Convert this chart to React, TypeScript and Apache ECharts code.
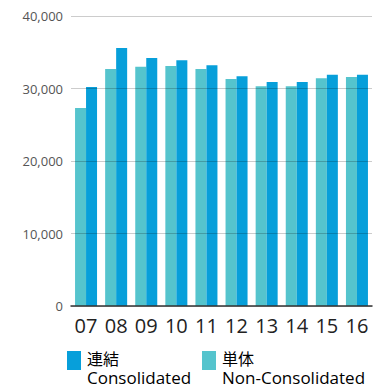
import React, { useEffect, useRef } from "react";
import * as echarts from "echarts";

const categories = ["07", "08", "09", "10", "11", "12", "13", "14", "15", "16"];
const nonConsolidated = [27300, 32700, 33000, 33100, 32700, 31300, 30300, 30300, 31400, 31600];
const consolidated = [30200, 35600, 34200, 33900, 33200, 31700, 30900, 30900, 31900, 31900];
const yTicks = [0, 10000, 20000, 30000, 40000];

const BLUE = "#079fda";
const TEAL = "#55c4cd";
const FONT = "'Open Sans', 'Noto Sans CJK JP', sans-serif";

const legendRich = {
  cjk: { fontFamily: FONT, fontSize: 16, lineHeight: 18, color: "#333" },
  lat: { fontFamily: FONT, fontSize: 17, lineHeight: 18, color: "#333" },
};

export default function App() {
  const ref = useRef<HTMLDivElement>(null);
  useEffect(() => {
    if (!ref.current) return;
    const chart = echarts.init(ref.current, null, { renderer: "svg" });
    chart.setOption({
      animation: false,
      textStyle: { fontFamily: FONT },
      grid: { left: 71, right: 5, top: 16, bottom: 82, containLabel: false },
      xAxis: {
        type: "category",
        data: categories,
        z: 5,
        axisLine: { lineStyle: { color: "#333", width: 1.5 } },
        axisTick: { alignWithLabel: true, length: 5, lineStyle: { color: "#333", width: 2 } },
        axisLabel: { color: "#222", fontSize: 20, margin: 9, fontFamily: FONT },
      },
      yAxis: {
        type: "value",
        min: yTicks[0],
        max: yTicks[yTicks.length - 1],
        interval: 10000,
        z: 4,
        axisLine: { show: false },
        axisTick: { show: false },
        axisLabel: {
          color: "#555",
          fontSize: 13,
          margin: 8,
          fontFamily: FONT,
          formatter: (v: number) => v.toLocaleString("en-US"),
        },
        splitLine: { lineStyle: { color: "rgba(0,0,0,0.2)", width: 1 } },
      },
      series: [
        {
          name: "単体 Non-Consolidated",
          type: "bar",
          data: nonConsolidated,
          barWidth: 11,
          barGap: "0%",
          itemStyle: { color: TEAL },
        },
        {
          name: "連結 Consolidated",
          type: "bar",
          data: consolidated,
          barWidth: 11,
          barGap: "0%",
          itemStyle: { color: BLUE },
        },
      ],
      graphic: [
        { type: "rect", left: 67, top: 351, shape: { width: 14, height: 19 }, style: { fill: BLUE } },
        {
          type: "text",
          left: 87,
          top: 351,
          style: { text: "{cjk|連結}\n{lat|Consolidated}", rich: legendRich },
        },
        { type: "rect", left: 202, top: 351, shape: { width: 14, height: 19 }, style: { fill: TEAL } },
        {
          type: "text",
          left: 222,
          top: 351,
          style: { text: "{cjk|単体}\n{lat|Non-Consolidated}", rich: legendRich },
        },
      ],
    });
    return () => chart.dispose();
  }, []);
  return (
    <div
      ref={ref}
      style={{ position: "absolute", left: 0, top: 0, width: 377, height: 388 }}
    />
  );
}
